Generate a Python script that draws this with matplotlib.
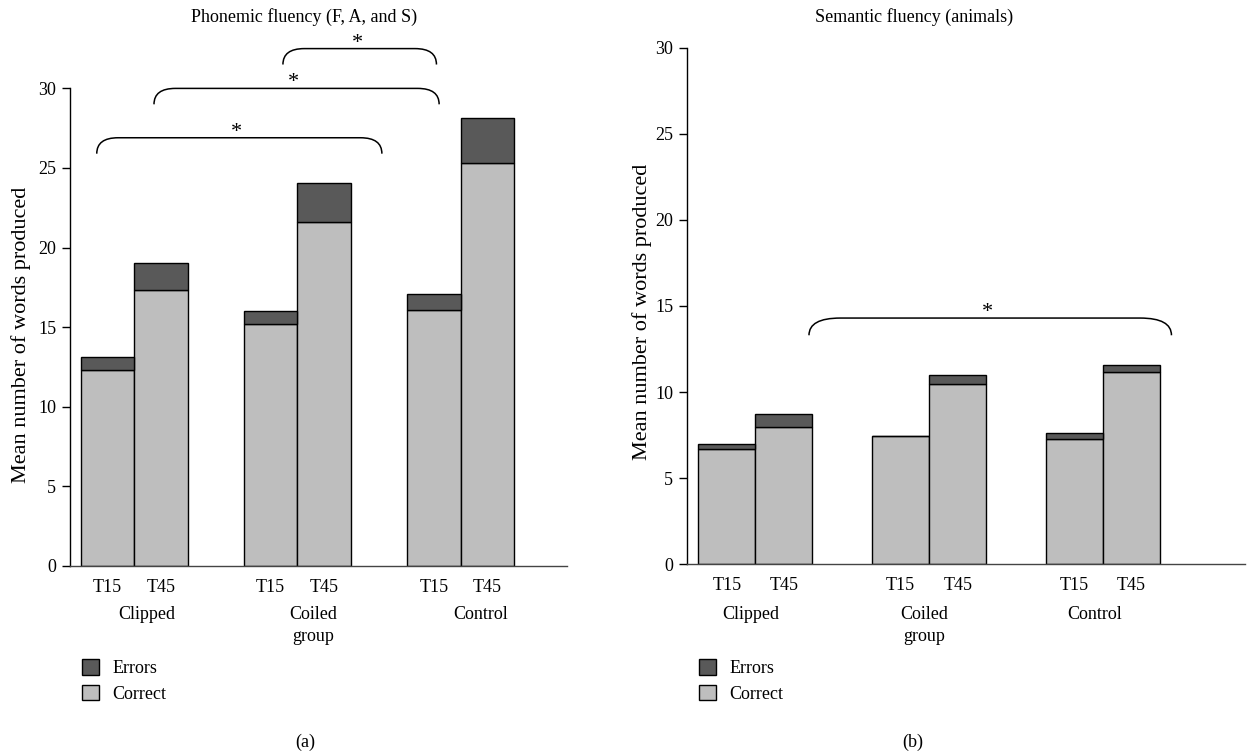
import matplotlib
matplotlib.use('Agg')
import matplotlib.pyplot as plt
import matplotlib.transforms as mtransforms
from matplotlib.patches import Patch, PathPatch
from matplotlib.path import Path

plt.rcParams['font.family'] = ['Liberation Serif', 'DejaVu Serif']
plt.rcParams['font.size'] = 13

# Data
groups = ['Clipped', 'Coiled\ngroup', 'Control']
times = ['T15', 'T45']
bar_labels = ['T15', 'T45', 'T15', 'T45', 'T15', 'T45']

phon_correct = [12.3, 17.35, 15.2, 21.6, 16.1, 25.3]
phon_errors = [0.85, 1.7, 0.8, 2.45, 1.0, 2.85]

sem_correct = [6.7, 7.95, 7.45, 10.45, 7.3, 11.15]
sem_errors = [0.28, 0.8, 0.0, 0.52, 0.35, 0.4]

# significance brackets: (x start, x end, top)
phon_brackets = [(0.50, 5.83, 26.9), (1.57, 6.90, 30.0), (3.98, 6.85, 32.5)]
sem_brackets = [(2.14, 8.50, 14.3)]

col_err = '#595959'
col_ok = '#bebebe'

W, H = 1259, 752
fig = plt.figure(figsize=(W / 100, H / 100), dpi=100)

x_pos = [0.7, 1.7, 3.75, 4.75, 6.8, 7.8]
grp_label_x = {'a': [1.44, 4.54, 7.68], 'b': [1.12, 4.16, 7.16]}


def px(x0, y0, x1, y1):
    return [x0 / W, 1 - y1 / H, (x1 - x0) / W, (y1 - y0) / H]


def bracket(ax, x0, x1, ytop, drop, rx, star_dy):
    verts = [(x0, ytop - drop), (x0, ytop), (x0 + rx, ytop),
             (x1 - rx, ytop), (x1, ytop), (x1, ytop - drop)]
    codes = [Path.MOVETO, Path.CURVE3, Path.CURVE3,
             Path.LINETO, Path.CURVE3, Path.CURVE3]
    pp = PathPatch(Path(verts, codes), facecolor='none', edgecolor='black',
                   lw=1.1, clip_on=False)
    ax.add_patch(pp)
    ax.text((x0 + x1) / 2 - 0.05, ytop - star_dy, '*', ha='center', va='bottom',
            fontsize=16, clip_on=False)


def draw_panel(ax, correct, errors, brackets, xmax, drop, rx, star_dy, title, title_x, tag,
               ylab_x, ylab_y):
    ax.bar(x_pos, correct, width=1.0, color=col_ok, edgecolor='black', lw=1.0)
    ax.bar(x_pos, errors, bottom=correct, width=1.0, color=col_err,
           edgecolor='black', lw=1.0)
    ax.set_xlim(0, xmax)
    ax.set_ylim(0, 30)
    ax.set_yticks([0, 5, 10, 15, 20, 25, 30])
    ax.set_xticks(x_pos)
    ax.set_xticklabels(bar_labels)
    ax.tick_params(axis='x', length=0, pad=9, labelsize=13)
    ax.tick_params(axis='y', length=6, width=1, pad=4, labelsize=13)
    for s in ['top', 'right']:
        ax.spines[s].set_visible(False)
    ax.spines['left'].set_linewidth(1.0)
    ax.spines['bottom'].set_linewidth(1.0)
    ax.spines['bottom'].set_color('#444444')

    for b in brackets:
        bracket(ax, b[0], b[1], b[2], drop, rx, star_dy)

    trans = mtransforms.blended_transform_factory(ax.transData, fig.transFigure)
    for gx, g in zip(grp_label_x[tag], groups):
        ax.text(gx, 1 - 606 / H, g, transform=trans, ha='center', va='top',
                fontsize=13, linespacing=1.35)

    fig.text(ylab_x / W, 1 - ylab_y / H, 'Mean number of words produced',
             rotation=90, ha='center', va='center', fontsize=16)
    fig.text(title_x / W, 1 - 17 / H, title, ha='center', va='center', fontsize=13)


ax1 = fig.add_axes(px(70, 88.4, 567, 566))
draw_panel(ax1, phon_correct, phon_errors, phon_brackets, 9.29, 1.0, 0.4, 0.25,
           'Phonemic fluency (F, A, and S)', 304, 'a', 21, 335)

ax2 = fig.add_axes(px(687, 47.7, 1245, 564.3))
draw_panel(ax2, sem_correct, sem_errors, sem_brackets, 9.79, 1.0, 0.55, 0.22,
           'Semantic fluency (animals)', 914, 'b', 642, 312)

handles = [Patch(facecolor=col_err, edgecolor='black', lw=1.0, label='Errors'),
           Patch(facecolor=col_ok, edgecolor='black', lw=1.0, label='Correct')]
for lx, tag_x, tag in [(82, 305, '(a)'), (699, 913, '(b)')]:
    fig.legend(handles=handles, loc='upper left', bbox_to_anchor=(lx / W, 1 - 659 / H),
               frameon=False, fontsize=13, handlelength=0.95, handleheight=0.95,
               handletextpad=0.75, labelspacing=0.42, borderpad=0, borderaxespad=0)
    fig.text(tag_x / W, 1 - 742 / H, tag, ha='center', va='center', fontsize=13)

fig.savefig('out.png', dpi=100)
